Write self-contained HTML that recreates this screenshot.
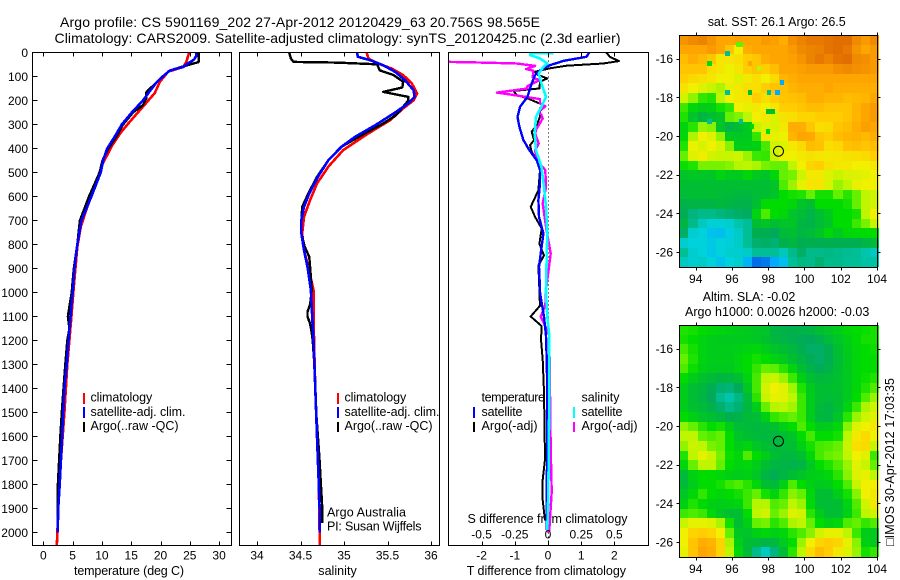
<!DOCTYPE html>
<html lang="en">
<head>
<meta charset="utf-8">
<title>Argo profile</title>
<style>
html,body{margin:0;padding:0;background:#fff;width:900px;height:580px;overflow:hidden}
svg{display:block}
text{font-family:"Liberation Sans",Arial,sans-serif;font-size:12px;fill:#000}
.t14{font-size:14px}
.t125{font-size:12.5px}
</style>
</head>
<body>
<svg id="chart" xmlns="http://www.w3.org/2000/svg" width="900" height="580" viewBox="0 0 900 580">
<defs>
<clipPath id="clip1"><rect x="33" y="53" width="198" height="492"/></clipPath>
<clipPath id="clip2"><rect x="240" y="53" width="199" height="492"/></clipPath>
<clipPath id="clip3"><rect x="449" y="53" width="199" height="492"/></clipPath>
</defs>
<rect x="0" y="0" width="900" height="580" fill="#fff"/>
<text class="t14" x="60" y="27" textLength="480">Argo profile: CS 5901169_202 27-Apr-2012 20120429_63 20.756S 98.565E</text>
<text class="t14" x="54.5" y="43" textLength="566">Climatology: CARS2009. Satellite-adjusted climatology: synTS_20120425.nc (2.3d earlier)</text>

<text class="t125" x="74" y="575" textLength="110">temperature (deg C)</text>
<text class="t125" x="318.3" y="575" textLength="38.4">salinity</text>
<text class="t125" x="466.7" y="575" textLength="159.3">T difference from climatology</text>
<text class="t125" x="467.5" y="523" textLength="160">S difference from climatology</text>

<g>
<text class="t125" x="90.5" y="401.7" textLength="61.7">climatology</text>
<text class="t125" x="90.5" y="416" textLength="95">satellite-adj. clim.</text>
<text class="t125" x="90.5" y="430" textLength="88">Argo(..raw -QC)</text>
<rect x="83" y="393" width="2" height="11" fill="#f00"/>
<rect x="83" y="407" width="2" height="11" fill="#00f"/>
<rect x="83" y="422" width="2" height="10" fill="#000"/>
</g>
<g>
<text class="t125" x="344.5" y="401.7" textLength="61.7">climatology</text>
<text class="t125" x="344.5" y="416" textLength="95">satellite-adj. clim.</text>
<text class="t125" x="344.5" y="430" textLength="88">Argo(..raw -QC)</text>
<rect x="337" y="393" width="2" height="11" fill="#f00"/>
<rect x="337" y="407" width="2" height="11" fill="#00f"/>
<rect x="337" y="422" width="2" height="10" fill="#000"/>
<text class="t125" x="327" y="516.7" textLength="79">Argo Australia</text>
<text class="t125" x="327" y="530.7" textLength="94.5">PI: Susan Wijffels</text>
</g>

<text class="t125" x="707.7" y="26" textLength="138">sat. SST: 26.1 Argo: 26.5</text>
<text class="t125" x="702.7" y="301" textLength="92.6">Altim. SLA: -0.02</text>
<text class="t125" x="685" y="316" textLength="184.3">Argo h1000: 0.0026 h2000: -0.03</text>
<text class="t125" transform="translate(894,546) rotate(-90)" x="0" y="0" textLength="168">□IMOS 30-Apr-2012 17:03:35</text>
</svg>
<script>
// ---------- Temperature profile data (deg C vs depth m) ----------
const tempClimDepth = [0,39,60,80,122,170,226,296,337,393,476,560,643,726,810,976,1100,1300,1500,1700,1800,2000,2056];
const tempClimValue = [24.9,24.4,23.9,21.3,19.9,19.0,17.0,14.5,13.1,11.6,9.9,8.8,7.5,6.4,5.8,5.2,4.8,4.1,3.6,3.0,2.7,2.4,2.3];
const tempSatDepth = [0,15,30,50,60,75,100,125,160,200,250,300,350,400,450,500,600,700,800,900,1000,1100,1200,1300,1400,1500,1600,1700,1800,1900,2000];
const tempSatValue = [26.1,26.1,25.7,24.4,23.9,21.6,20.4,19.3,18.2,17.0,15.1,13.4,12.2,10.9,10.2,9.8,8.2,6.5,5.8,5.3,5.0,4.65,4.3,4.0,3.6,3.4,3.2,3.0,2.8,2.55,2.45];
const tempArgoDepth = [0,40,50,60,75,100,125,165,190,220,250,300,350,400,450,500,600,700,800,900,1000,1050,1100,1150,1200,1300,1400,1500,1600,1700,1800,1900,1950];
const tempArgoValue = [26.5,26.5,25.0,23.6,21.6,20.4,19.3,17.6,17.6,17.0,15.3,13.6,12.5,11.1,10.1,9.6,7.8,6.25,5.8,5.2,4.85,4.5,4.2,4.45,4.1,3.75,3.45,3.15,2.9,2.7,2.5,2.45,2.5];
const tempTicks = [0,5,10,15,20,25,30];

// ---------- Salinity profile data ----------
const salClimDepth = [0,25,46,67,94,129,171,199,233,282,337,407,476,546,615,685,754,824,893,990,1200,1400,1600,1800,2000,2056];
const salClimValue = [35.26,35.28,35.39,35.55,35.68,35.78,35.84,35.80,35.68,35.53,35.28,34.99,34.82,34.69,34.61,34.54,34.52,34.54,34.59,34.65,34.655,34.67,34.69,34.71,34.72,34.72];
const salSatDepth = [0,18,32,53,81,115,157,185,212,254,303,351,393,449,518,588,643,699,754,824,893,990,1100,1200,1300,1400,1500,1600,1700,1800,1900,2000];
const salSatValue = [35.15,35.16,35.30,35.45,35.59,35.70,35.80,35.81,35.74,35.57,35.36,35.13,34.97,34.82,34.70,34.60,34.54,34.51,34.51,34.54,34.58,34.62,34.635,34.65,34.66,34.67,34.68,34.69,34.70,34.71,34.72,34.72];
const salArgoDepth = [0,25,39,42,49,74,94,122,146,164,185,199,226,261,296,337,393,449,518,588,643,699,754,810,851,893,990,1050,1080,1100,1130,1170,1200,1300,1500,1600,1700,1800,1900,1960];
const salArgoValue = [34.37,34.39,34.42,34.92,35.38,35.41,35.57,35.68,35.67,35.45,35.74,35.74,35.68,35.60,35.45,35.24,34.97,34.82,34.69,34.59,34.52,34.51,34.51,34.55,34.60,34.61,34.63,34.61,34.58,34.58,34.61,34.63,34.64,34.66,34.68,34.70,34.72,34.735,34.75,34.75];
const salTicks = [34,34.5,35,35.5,36];
const salTickLabels = ['34','34.5','35','35.5','36'];

// ---------- Difference panel data ----------
const diffTSatDepth = [0,18,35,53,74,94,129,185,226,268,310,365,407,449,490,546,615,685,754,838,893,990,1000,1100,1180,1280,1410,1990];
const diffTSatValue = [1.24,1.16,0.46,0.06,-0.24,-0.39,-0.49,-0.62,-0.84,-0.92,-0.86,-0.74,-0.56,-0.34,-0.24,-0.24,-0.29,-0.27,-0.14,-0.22,-0.27,-0.24,-0.24,-0.12,-0.06,-0.04,-0.02,-0.04];
const diffTArgoDepth = [0,18,36,46,55,66,80,94,108,122,150,160,178,192,219,233,268,303,330,365,386,414,449,490,574,643,685,733,797,846,888,990,1000,1055,1100,1140,1195,1280,1415,1695,1780,1865,1950];
const diffTArgoValue = [1.76,1.86,2.14,1.66,0.56,0.06,-0.39,-0.29,-0.02,-0.24,-0.26,-1.04,-0.94,-0.6,-0.14,-0.24,-0.24,-0.34,-0.49,-0.42,-0.54,-0.49,-0.34,-0.24,-0.29,-0.52,-0.39,-0.19,-0.26,-0.12,-0.29,-0.26,-0.26,-0.24,-0.52,-0.19,-0.21,-0.16,-0.12,-0.09,-0.16,-0.16,-0.09];
const diffSSatDepth = [2,4,11,25,46,60,88,129,185,226,268,337,407,476,560,643,754,850,990,1000,1100,1180,1415,1695,1835,1990];
const diffSSatValue = [0.04,-0.135,-0.135,-0.06,-0.005,-0.035,-0.07,-0.05,-0.015,-0.05,-0.09,-0.10,-0.09,-0.05,-0.03,-0.015,-0.005,-0.01,-0.015,-0.015,-0.005,0.01,0.01,0.005,0.002,-0.005];
const diffSArgoDepth = [39,42,46,56,69,76,104,115,140,150,167,175,194,212,224,247,261,275,317,337,379,407,449,490,560,629,726,838,990,1000,1055,1100,1140,1180,1415,1650,1830,1990,2000];
const diffSArgoValue = [-0.75,-0.485,-0.235,-0.0975,-0.165,-0.11,-0.115,-0.065,-0.155,-0.155,-0.385,-0.285,-0.06,-0.06,-0.02,-0.07,-0.05,-0.04,-0.085,-0.0975,-0.07,-0.0975,-0.085,-0.02,-0.015,-0.04,-0.015,0.02,-0.015,-0.015,-0.02,-0.055,-0.02,0.01,0.015,0.02,0.028,0.01,-0.005];
const diffTTicks = [-2,-1,0,1,2];
const diffSTicks = [-0.5,-0.25,0,0.25,0.5];
const diffSTickLabels = ['-0.5','-0.25','0','0.25','0.5'];
const depthTicks = [0,100,200,300,400,500,600,700,800,900,1000,1100,1200,1300,1400,1500,1600,1700,1800,1900,2000];

// ---------- Map data (colour-scale level per 0.5 deg cell, north to south) ----------
const lonTicks = [94,96,98,100,102,104];
const latTicks = [-16,-18,-20,-22,-24,-26];
const argoLon = [98.565];
const argoLat = [-20.756];
const sstLevels = [
[11.3,11.5,11.6,11.3,11,11,11.1,11,11,11.2,11.1,10.8,11.4,11.6,11.8,11.8,11.9,12,12,11.5,11.2,11.5],
[11,11,11,11.2,11,10.3,9,10.8,11,11,11,11,11.2,11.5,11.6,11.7,11.9,12,11.8,11.3,11,11.2],
[10.4,10.8,10.5,10.2,9.3,9.3,9.5,10,10.2,10.8,11,11,11.1,11.3,11.6,11.8,11.6,11.9,12,11.5,11.4,11.2],
[10.2,10.2,10.2,9.5,9.3,8.9,9.3,10,10.2,10,10.4,11,11,11.1,11.2,11.2,11.2,11.4,11.5,11.4,11.3,11.2],
[10,9.7,9.5,9.3,9,9,8.6,9.2,9.5,9,9.6,10.6,10.8,11,11,11,11,11,11,11,11,11],
[9.4,9,8.6,8.2,7.8,8.8,9.2,9.5,9.5,10,10.3,10.3,10.6,10.8,10.8,10.8,11,10.8,10.8,10.8,10.8,10.8],
[8.4,7.5,6.5,6.3,8,9,9.2,9.3,10,9.5,10,10.2,10.3,10.4,10.8,10.8,10.6,10.6,10.4,10.5,10.6,11],
[6.6,5.8,5.5,5.6,6.2,6.5,9,8.8,9.2,9,9.3,10,10,10.2,10.4,10.4,10.2,10.2,10.2,10.6,11,11.2],
[6.3,5.2,4.6,5,5.2,7,7.3,8,9,9.2,8.5,9.4,9.5,9.8,9.8,10,10,10,10.2,10.6,11,11.2],
[5.7,6.4,7.6,7.4,5.2,4.6,5,5.4,8.2,8.6,8.5,9.2,10.8,10.8,10.2,9.5,9.6,10.2,10.4,10.8,11.1,11],
[5.8,7.8,9,8.6,7.5,5.4,5.3,5.4,6.5,9.2,8.8,8.9,10.6,11,10.9,10.2,10,10.4,10.6,10.7,10.5,10.8],
[6.3,8.9,8.5,9,8.5,7.4,5.5,5.5,5.6,6.7,8.4,8.6,9.2,9.6,10.4,10.3,9.5,9.7,10.3,10.4,10.2,10.4],
[7,8.6,9.1,8.4,8.2,8.2,8.3,7.6,6.6,6.5,8.2,9,9,9.2,9.4,9.3,9.2,9.3,9.4,9.5,9.6,10],
[6.1,6.3,7.2,7.2,7.2,7.4,7.9,8,7.8,7.2,7,7,8,9,9.8,10,9.4,9.2,9.2,9,9,9.2],
[5.2,5.3,5.3,5.2,5.7,5.4,5.4,5.8,5.4,5.2,5.8,7,7.2,8.3,9.2,9.2,8.6,8.2,8.5,8.6,8.8,9],
[5,5,5,5,5,5,5,5,5,5,5.2,6.8,7.6,8.8,9.3,9.3,8.5,7.6,8,8.8,9,9],
[4.9,5,5,5,4.9,4.8,4.7,4.7,4.9,5,5.2,6,6.2,6.3,7,6.2,6.2,7,6.4,7,8,8.3],
[4.4,4.5,4.5,4.5,4.7,4.5,4.4,4.4,5,6,6,6,5.8,5.2,5,6,6,6,6.2,7,8,8.4],
[4.1,3.4,3.2,3.2,3.4,3.6,3.8,3.9,5.7,6.8,6,5.8,5.2,4.9,4.5,5,5.4,6,6,6.2,8,9],
[4.6,3.2,2.4,2.1,2.1,2.2,2.7,3,5,5.2,5,5.2,5.2,4.6,4.4,4.9,5.2,6,6,6.6,7.2,8.2],
[3.8,2.2,2,1.6,1.5,1.9,2.3,3,4.2,4.2,4,4.8,5,4.6,4.8,5.2,5.8,5.4,5.8,5.9,6,6],
[2.2,2,2,1.8,2,2.1,2.3,3,3.7,3.8,3.6,4.3,4.6,4.2,4.2,4.2,4.2,4.2,4.2,4.2,4.5,4.8],
[3,2.2,2,1.7,2,2.2,2.2,2.3,3,3,3,2.5,3.2,3.8,3.2,3.2,3.3,3.2,3.1,3,2.7,2.4],
[2.4,2.2,2.3,2,1.6,2,2.2,1.2,0.4,0.5,1,1.5,3,3.3,3.2,3.6,3.2,3.2,3,3,2.8,2.8]
];
// isolated 0.25 deg SST cells: centre longitude, centre latitude, level
const sstSpotLon = [95.75,96.35,94.75,98.75,98.5,98.05,95.75,97.0,94.75,96.5,98.0,98.0,96.5,97.5,97.0,97.1,98.25];
const sstSpotLat = [-15.75,-15.25,-16.25,-17.25,-17.75,-17.75,-17.75,-17.75,-19.25,-19.25,-18.75,-19.75,-15.25,-16.5,-16.25,-19.5,-18.75];
const sstSpotLevel = [3,7,6,1,1,3,3,5,3,3,5,6,7,8,11,6,5];
const slaLevels = [
[6.3,6.2,6,5.8,5.7,5.6,5.5,5.4,5.3,5.2,4.6,4.4,4.3,4.4,4.6,5,5.2,5.5,5.8,6,6.1,6.2],
[6.2,6,5.7,5.5,5.4,5.4,5.4,5.4,5.3,5.1,4.7,4.5,4.3,4.1,4,4.3,4.8,5.2,5.6,5.9,6.2,6.2],
[6.7,6.2,5.7,5.5,5.5,5.5,5.6,5.7,5.8,5.5,5.2,5,4.7,4.2,3.8,3.8,4.2,5,5.5,5.8,6,6.1],
[7,6.3,5.7,5.5,5.5,5.5,5.7,6,6.2,6,5.7,5.4,5,4.6,4.1,3.8,4.2,4.9,5.4,5.8,6,6],
[6.8,6.1,5.6,5.4,5.4,5.4,5.7,6,6.5,7,6.9,6.4,5.7,5,4.4,4.1,4.4,5,5.4,5.8,6,6],
[6,5.5,5.1,4.8,4.6,4.7,5,5.7,6.7,8,8.2,7.6,6.6,5.6,5,4.7,4.8,5.1,5.4,5.8,6.1,6.3],
[5.5,5,4.7,4.2,3.6,3.5,4,5.3,6.7,8.4,9,8.7,7.7,6.3,5.4,5,5,5.1,5.4,5.8,6.3,6.8],
[5.5,5,4.6,4,3.1,2.7,3.3,4.8,6.4,8.2,8.8,8.7,8,6.6,5.5,5,4.9,5,5.4,6,6.8,7.6],
[5.5,5.1,4.8,4.4,3.7,3.2,3.6,4.7,5.5,7,7.9,8,7.7,6.6,5.5,4.8,4.6,5,5.7,6.6,7.8,8.3],
[6,5.6,5.2,5,4.7,4.3,4.4,4.8,4.9,5.6,6.5,6.8,7,6.6,5.5,4.7,4.6,5.2,6.4,7.6,8.3,8.7],
[7.5,7,6.4,6,6.2,5.5,4.9,4.8,4.7,4.8,5.1,5.6,6,6.8,6,5.4,5.5,5.8,7.4,8.6,9,9.2],
[8,8,7,6.8,7,6,5.2,5,4.8,4.7,4.7,5,5.2,6,6.7,6,6,6.2,8,9.2,9.6,9],
[7.5,8.2,8,7.2,7,6,5.5,5.7,5.3,5,4.7,4.9,5,5.6,6.2,6.7,6.8,7,8.2,9.5,9.6,8.2],
[6.3,8,8.8,8.2,7.2,6.1,5.8,6.8,6,5.5,5,4.7,4.7,5,5.8,6.7,7,7.2,8,9,8.6,6.6],
[5.8,7,8,8,7,6,5.7,5.8,5.5,5,4.6,4.5,4.4,4.6,5.3,6,6.3,6.8,7.6,8.7,8.2,7],
[4.8,5.6,6,6,5.8,5.6,5.5,5.6,5.3,4.5,4.2,4.6,5,5.2,5.5,5.6,5.8,6.4,7.4,8.6,8.8,8],
[4.8,5.5,6,6,6.2,6.6,6.8,6.4,5.8,5,4.8,5.6,6.8,6,5.6,5.4,5.5,6,6.8,8.2,9,9],
[5.3,5.8,6.5,6,5.8,6,6.2,6.6,7,6.2,5.7,6.5,7.4,7,5.8,5,5,5.5,6.2,7.4,9,9.2],
[5.6,6.3,5.9,5.6,5.5,5.6,5.7,6.6,7.9,7.9,6.8,7,8,7.6,5.9,5,4.9,5,5.7,6.8,8.4,9.2],
[6.6,6.8,6.6,5.8,5.3,5,5,6,8,8.4,7,7.6,8.6,8.4,6.4,5.5,5,5,5.6,6.6,8,8.4],
[8.2,8.8,8.8,8.6,7.8,6.2,5,5.6,7,7.2,6.4,6.8,7.8,8,7,6,5.6,5.8,6.8,7,6.5,6.8],
[9,9.8,10,9.8,9,7,5.3,5.2,5.6,5.8,5.6,5.8,6.4,6.8,7.4,8.4,8.8,8.8,8,6.6,5.5,5.4],
[9,10.2,10.8,10.6,9.8,7.8,5.6,5,4.8,4.5,4.7,5.4,6,7.6,9,9.8,10,9.8,8.8,7.4,5.6,5.4],
[8.8,10.2,11,10.8,9.8,8,5.8,4.8,3.2,2.4,3.4,5,6.4,8,9.6,10.4,10,9.2,8.6,7.6,6.2,6.5]
];
const colourStops = [[0,70,220],[0,170,255],[0,210,220],[0,190,150],[0,170,90],[0,190,50],[0,220,0],[100,240,0],[190,245,0],[240,240,0],[255,205,0],[255,165,0],[225,110,0]];
function levelColour(level) {
  const v = Math.max(0, Math.min(colourStops.length - 1, level));
  const i = Math.min(colourStops.length - 2, Math.floor(v));
  const f = v - i;
  const a = colourStops[i], b = colourStops[i + 1];
  return 'rgb(' + [0, 1, 2].map(k => Math.round(a[k] + (b[k] - a[k]) * f)).join(',') + ')';
}

// ---------- Axis functions ----------
const depthPxPerM = 0.24, depthTop = 52.5;
const yDepth = d => depthTop + d * depthPxPerM;
const xTemp = t => 43.3 + t * 5.86;
const xSal = s => 257 + (s - 34) * 87;
const xDiffT = t => 548 + t * 33.2;
const xDiffS = s => 548 + s * 132.8;
const xLon = lon => 695.7 + (lon - 94) * 18.13;
const yLat = (lat, top) => top + 23.7 + (-16 - lat) * 19.33;

const svg = document.getElementById('chart');
const NS = 'http://www.w3.org/2000/svg';
function mk(tag, attrs, parent) {
  const el = document.createElementNS(NS, tag);
  for (const k in attrs) el.setAttribute(k, attrs[k]);
  (parent || svg).appendChild(el);
  return el;
}
function pointsOf(depths, values, xf) {
  return depths.map((d, i) => xf(values[i]).toFixed(1) + ',' + yDepth(d).toFixed(1)).join(' ');
}
function drawLine(depths, values, xf, colour, width, clip, name, parent) {
  const el = mk('polyline', {points: pointsOf(depths, values, xf), fill: 'none', stroke: colour, 'stroke-width': width, 'clip-path': 'url(#' + clip + ')', 'stroke-linejoin': 'round', 'shape-rendering': 'crispEdges'}, parent);
  
  
  return el;
}
function drawTickLine(x1, y1, x2, y2, parent) {
  const el = mk('line', {x1: x1, y1: y1, x2: x2, y2: y2, stroke: '#000', 'stroke-width': 1, 'shape-rendering': 'crispEdges'}, parent);
  
  
}
function drawLabel(str, x, y, anchor, parent) {
  const el = mk('text', {x: x, y: y, 'text-anchor': anchor}, parent);
  el.textContent = str;
  
  
}
function drawFrame(x, y, w, h, name, parent) {
  const el = mk('rect', {x: x, y: y, width: w, height: h, fill: 'none', stroke: '#000', 'stroke-width': 1, 'shape-rendering': 'crispEdges'}, parent);
  
  
}
const plotBottom = 545.5, plotTop = 52.5;
function xTicksFor(ticks, labels, xf, labelY, parent) {
  ticks.forEach((t, i) => {
    const x = Math.round(xf(t)) + 0.5;
    drawTickLine(x, plotTop, x, plotTop + 4, parent);
    drawTickLine(x, plotBottom, x, plotBottom - 4, parent);
    if (labelY) drawLabel(labels[i], xf(t), labelY, 'middle', parent);
  });
}

// ---------- Temperature panel ----------
const tempPanel = mk('g', {});


drawLine(tempClimDepth, tempClimValue, xTemp, '#f00', 2.6, 'clip1', 'temperature-climatology-line', tempPanel);
drawLine(tempArgoDepth, tempArgoValue, xTemp, '#000', 2.4, 'clip1', 'temperature-argo-line', tempPanel);
drawLine(tempSatDepth, tempSatValue, xTemp, '#00f', 2.6, 'clip1', 'temperature-satellite-line', tempPanel);
drawFrame(32.5, plotTop, 199, plotBottom - plotTop, 'temperature-plot-frame', tempPanel);
xTicksFor(tempTicks, tempTicks.map(String), xTemp, 559.5, tempPanel);
depthTicks.forEach(d => {
  const y = Math.round(yDepth(d) - 0.5) + 0.5;
  drawTickLine(32.5, y, 37.5, y, tempPanel);
  drawTickLine(231.5, y, 226.5, y, tempPanel);
  drawLabel(String(d), 28, yDepth(d) + 4.5, 'end', tempPanel);
});

// ---------- Salinity panel ----------
const salPanel = mk('g', {});


drawLine(salClimDepth, salClimValue, xSal, '#f00', 2.6, 'clip2', 'salinity-climatology-line', salPanel);
drawLine(salArgoDepth, salArgoValue, xSal, '#000', 2.4, 'clip2', 'salinity-argo-line', salPanel);
drawLine(salSatDepth, salSatValue, xSal, '#00f', 2.6, 'clip2', 'salinity-satellite-line', salPanel);
drawFrame(239.5, plotTop, 200, plotBottom - plotTop, 'salinity-plot-frame', salPanel);
xTicksFor(salTicks, salTickLabels, xSal, 559.5, salPanel);

// ---------- Difference panel ----------
const diffPanel = mk('g', {});


const zeroLine = mk('line', {x1: 548.5, y1: plotTop, x2: 548.5, y2: plotBottom, stroke: '#000', 'stroke-width': 1, 'stroke-dasharray': '1 3', 'shape-rendering': 'crispEdges'}, diffPanel);


drawLine(diffTArgoDepth, diffTArgoValue, xDiffT, '#000', 2, 'clip3', 'temperature-difference-argo-line', diffPanel);
drawLine(diffSArgoDepth, diffSArgoValue, xDiffS, '#f0f', 2.4, 'clip3', 'salinity-difference-argo-line', diffPanel);
drawLine(diffTSatDepth, diffTSatValue, xDiffT, '#00f', 2.4, 'clip3', 'temperature-difference-satellite-line', diffPanel);
drawLine(diffSSatDepth, diffSSatValue, xDiffS, '#0ff', 2.6, 'clip3', 'salinity-difference-satellite-line', diffPanel);
drawFrame(448.5, plotTop, 200, plotBottom - plotTop, 'difference-plot-frame', diffPanel);
xTicksFor(diffTTicks, diffTTicks.map(String), xDiffT, 559.5, diffPanel);
diffSTicks.forEach((s, i) => drawLabel(diffSTickLabels[i], xDiffS(s), 538.3, 'middle', diffPanel));
[['temperature', 481.5, 401.7, 63.5], ['satellite', 481.5, 416, 41], ['Argo(-adj)', 481.5, 430, 56], ['salinity', 581.5, 401.7, 38], ['satellite', 581.5, 416, 41], ['Argo(-adj)', 581.5, 430, 56]].forEach(item => {
  const el = mk('text', {x: item[1], y: item[2], textLength: item[3], class: 't125'}, diffPanel);
  el.textContent = item[0];
  
  
});
[[473, 407, '#00f', 11], [473, 422, '#000', 10], [573, 407, '#0ff', 11], [573, 422, '#f0f', 10]].forEach(item => {
  const el = mk('rect', {x: item[0], y: item[1], width: 2, height: item[3], fill: item[2]}, diffPanel);
  
  
});

// ---------- Maps ----------
const mapLeftLon = 93.1, cellLon = 0.5, cellLat = 0.5, mapTopLat = -14.77;
function drawMap(levels, top, name) {
  const g = mk('g', {});
  
  
  levels.forEach((row, j) => row.forEach((level, i) => {
    const lon = mapLeftLon + i * cellLon, lat = mapTopLat - j * cellLat;
    const x1 = Math.round(xLon(lon)), x2 = Math.round(xLon(lon + cellLon));
    const y1 = Math.round(yLat(lat, top)), y2 = Math.round(yLat(lat - cellLat, top));
    const c = mk('rect', {x: x1, y: y1, width: x2 - x1, height: y2 - y1, fill: levelColour(level), 'shape-rendering': 'crispEdges'}, g);
    
    
  }));
  return g;
}
function finishMap(g, top, name) {
  drawFrame(679.5, top + 0.5, 198, 232, name + '-frame', g);
  lonTicks.forEach(lon => {
    const x = Math.round(xLon(lon)) + 0.5;
    drawTickLine(x, top + 0.5, x, top - 2.5, g);
    drawTickLine(x, top + 232.5, x, top + 235.5, g);
    drawLabel(String(lon), xLon(lon), top + 248, 'middle', g);
  });
  latTicks.forEach(lat => {
    const y = Math.round(yLat(lat, top)) + 0.5;
    drawTickLine(679.5, y, 676.5, y, g);
    drawTickLine(877.5, y, 880.5, y, g);
    drawLabel(String(lat), 673, yLat(lat, top) + 4.5, 'end', g);
  });
  argoLon.forEach((lon, i) => {
    const m = mk('circle', {cx: xLon(lon), cy: yLat(argoLat[i], top) + 0.6, r: 5, fill: 'none', stroke: '#000', 'stroke-width': 1}, g);
    
    
  });
}
const sstMap = drawMap(sstLevels, 35, 'sst-map');
sstSpotLon.forEach((lon, i) => {
  const x1 = Math.round(xLon(lon - 0.125)), x2 = Math.round(xLon(lon + 0.125));
  const y1 = Math.round(yLat(sstSpotLat[i] + 0.125, 35)), y2 = Math.round(yLat(sstSpotLat[i] - 0.125, 35));
  const s = mk('rect', {x: x1, y: y1, width: x2 - x1, height: y2 - y1, fill: levelColour(sstSpotLevel[i]), 'shape-rendering': 'crispEdges'}, sstMap);
  
  
});
finishMap(sstMap, 35, 'sst-map');
const slaMap = drawMap(slaLevels, 325, 'sla-map');
finishMap(slaMap, 325, 'sla-map');
</script>
</body>
</html>
